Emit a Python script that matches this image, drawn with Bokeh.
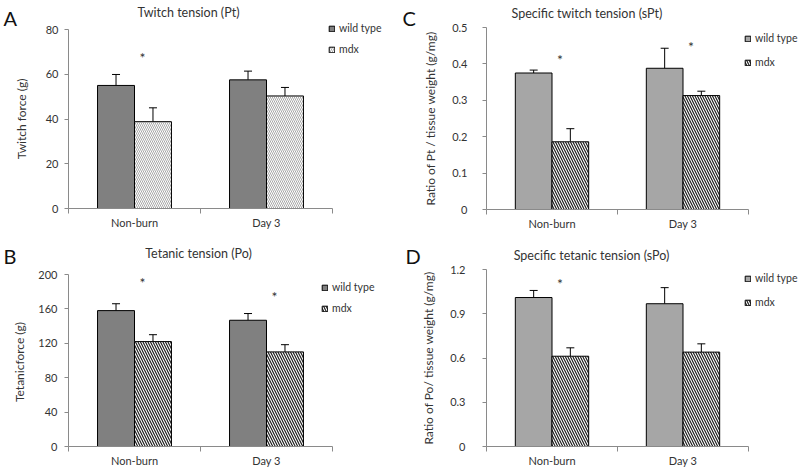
from bokeh.plotting import figure
from bokeh.models import (Range1d, FixedTicker, Whisker, TeeHead, Legend,
                          LegendItem, Label, ColumnDataSource)
from bokeh.layouts import gridplot
from bokeh.embed import file_html
from bokeh.resources import INLINE
from bokeh.core.properties import value

# ---------------- data ----------------
groups = ["Non-burn", "Day 3"]
series = ["wild type", "mdx"]

# A: Twitch tension (Pt), g
a_wt = [55.0, 57.5]
a_wt_top = [59.9, 61.4]
a_mdx = [38.8, 50.3]
a_mdx_top = [45.0, 54.1]
a_sig = [68.4, None]
a_ticks = [0, 20, 40, 60, 80]
a_tick_labels = ["0", "20", "40", "60", "80"]

# B: Tetanic tension (Po), g
b_wt = [158.0, 146.8]
b_wt_top = [166.0, 154.6]
b_mdx = [122.0, 110.0]
b_mdx_top = [130.0, 118.4]
b_sig = [193.0, 177.0]
b_ticks = [0, 40, 80, 120, 160, 200]
b_tick_labels = ["0", "40", "80", "120", "160", "200"]

# C: Specific twitch tension (sPt), g/mg
c_wt = [0.375, 0.388]
c_wt_top = [0.383, 0.443]
c_mdx = [0.186, 0.313]
c_mdx_top = [0.222, 0.325]
c_sig = [0.418, 0.454]
c_ticks = [0, 0.1, 0.2, 0.3, 0.4, 0.5]
c_tick_labels = ["0", "0.1", "0.2", "0.3", "0.4", "0.5"]

# D: Specific tetanic tension (sPo), g/mg
d_wt = [1.010, 0.968]
d_wt_top = [1.058, 1.077]
d_mdx = [0.612, 0.640]
d_mdx_top = [0.669, 0.696]
d_sig = [1.117, None]
d_ticks = [0, 0.3, 0.6, 0.9, 1.2]
d_tick_labels = ["0", "0.3", "0.6", "0.9", "1.2"]

FONT = "Lato"
TXT = "#333333"
AX = "#8a8a8a"


def make_panel(letter, title, ylabel, wt, wt_top, mdx, mdx_top, sig, ticks,
               tick_labels, wt_color, hatch_color, hatch_weight, hatch_scale,
               height, fl, ft, fb, ppx, title_xy, letter_xy, leg_x, leg_rows,
               ylab_standoff, tick_standoff):
    width = 400
    ymax = ticks[-1]
    ppy = (fb - ft) / ymax
    p = figure(width=width, height=height, output_backend="svg",
               toolbar_location=None,
               x_range=Range1d(-fl / ppx, (width - fl) / ppx),
               y_range=Range1d(-(height - fb) / ppy, fb / ppy),
               min_border=0)
    p.outline_line_color = None
    p.xgrid.visible = False
    p.ygrid.visible = False
    p.background_fill_color = "white"
    p.border_fill_color = "white"

    def to_data(lx, ly):
        return ((lx - fl) / ppx, (fb - ly) / ppy)

    idx = list(range(len(groups)))
    xw = [i + 0.5 - 0.14 for i in idx]
    xm = [i + 0.5 + 0.14 for i in idx]

    r_wt = p.vbar(x=xw, top=wt, width=0.28, fill_color=wt_color,
                  line_color="black", line_width=1)
    r_mdx = p.vbar(x=xm, top=mdx, width=0.28, fill_color="white",
                   line_color="black", line_width=1, hatch_pattern="\\",
                   hatch_color=hatch_color, hatch_weight=hatch_weight,
                   hatch_scale=hatch_scale)

    src = ColumnDataSource(dict(base=xw + xm, lower=wt + mdx,
                                upper=wt_top + mdx_top))
    w = Whisker(base="base", lower="lower", upper="upper", source=src,
                line_color="black", line_width=1, lower_head=None,
                upper_head=TeeHead(size=8, line_color="black", line_width=1))
    p.add_layout(w)

    sx = [i + 0.56 for i, s in zip(idx, sig) if s is not None]
    sy = [s for s in sig if s is not None]
    p.text(x=sx, y=sy, text=["*"] * len(sx), text_font=value(FONT),
           text_font_size="14px", text_align="center",
           text_baseline="middle", text_color=TXT, y_offset=2)

    # axes
    xa = p.xaxis[0]
    xa.fixed_location = 0
    xa.ticker = FixedTicker(ticks=[0.5, 1.5], minor_ticks=[0, 1, 2])
    xa.major_label_overrides = {0.5: groups[0], 1.5: groups[1]}
    xa.bounds = (0, 2)
    xa.major_tick_out = 0
    xa.major_tick_in = 0
    xa.minor_tick_out = 5
    xa.minor_tick_in = 0
    xa.minor_tick_line_color = AX
    xa.axis_line_color = AX
    xa.major_label_standoff = 2
    xa.major_label_text_font = FONT
    xa.major_label_text_font_size = "11px"
    xa.major_label_text_color = TXT

    ya = p.yaxis[0]
    ya.fixed_location = 0
    ya.bounds = (0, ymax)
    ya.ticker = FixedTicker(ticks=ticks)
    ya.major_label_overrides = {t: l for t, l in zip(ticks, tick_labels)}
    ya.major_tick_out = 4
    ya.major_tick_in = 0
    ya.minor_tick_out = 0
    ya.minor_tick_in = 0
    ya.major_tick_line_color = AX
    ya.axis_line_color = AX
    ya.major_label_standoff = tick_standoff
    ya.major_label_text_font = FONT
    ya.major_label_text_font_size = "11px"
    ya.major_label_text_color = TXT
    ya.axis_label = ylabel
    ya.axis_label_text_font = FONT
    ya.axis_label_text_font_size = "12px"
    ya.axis_label_text_font_style = "normal"
    ya.axis_label_text_color = TXT
    ya.axis_label_standoff = ylab_standoff

    # title and panel letter
    tx, ty = to_data(*title_xy)
    p.add_layout(Label(x=tx, y=ty, text=title, text_font=FONT,
                       text_font_size="12.5px", text_color=TXT,
                       text_align="center", text_baseline="middle"))
    lx, ly = to_data(*letter_xy)
    p.add_layout(Label(x=lx, y=ly, text=letter, text_font=FONT,
                       text_font_size="20px", text_color="#111111",
                       text_align="left", text_baseline="alphabetic"))

    # legend
    row_h = 13
    spacing = int(round(leg_rows[1] - leg_rows[0] - row_h))
    leg_bottom = leg_rows[1] + row_h / 2
    leg = Legend(items=[LegendItem(label=series[0], renderers=[r_wt]),
                        LegendItem(label=series[1], renderers=[r_mdx])],
                 location=(leg_x, height - leg_bottom),
                 orientation="vertical", padding=0, margin=0,
                 spacing=spacing, glyph_width=7, glyph_height=7,
                 label_height=row_h, label_standoff=4,
                 label_text_font=FONT, label_text_font_size="10.5px",
                 label_text_color=TXT, border_line_color=None,
                 background_fill_alpha=0)
    p.add_layout(leg, "center")
    return p


pa = make_panel("A", "Twitch tension (Pt)", "Twitch force (g)",
                a_wt, a_wt_top, a_mdx, a_mdx_top, a_sig, a_ticks,
                a_tick_labels, "#808080", "#a8a8a8", 1, 4,
                230, 68, 29, 208, 132, (188, 12), (3, 17), 328, (28.5, 49),
                14, 6)
pc = make_panel("C", "Specific  twitch tension (sPt)",
                "Ratio of Pt / tissue weight (g/mg)",
                c_wt, c_wt_top, c_mdx, c_mdx_top, c_sig, c_ticks,
                c_tick_labels, "#a6a6a6", "#1e1e1e", 1.2, 5,
                230, 86, 27, 209, 131, (188, 13), (2, 17), 344, (38, 62),
                11, 15)
pb = make_panel("B", "Tetanic tension (Po)", "Tetanicforce  (g)",
                b_wt, b_wt_top, b_mdx, b_mdx_top, b_sig, b_ticks,
                b_tick_labels, "#808080", "#1e1e1e", 1.2, 5,
                237, 68, 44, 216, 132, (198, 23), (3, 25), 321, (57, 78),
                8, 7)
pd_ = make_panel("D", "Specific tetanic tension (sPo)",
                 "Ratio of Po/ tissue weight (g/mg)",
                 d_wt, d_wt_top, d_mdx, d_mdx_top, d_sig, d_ticks,
                 d_tick_labels, "#a6a6a6", "#1e1e1e", 1.2, 5,
                 237, 86, 39, 216, 131, (191, 25), (5, 25), 344, (48, 72),
                 11, 17)

grid = gridplot([[pa, pc], [pb, pd_]], toolbar_location=None)
open("out.html", "w").write(file_html(grid, INLINE))
